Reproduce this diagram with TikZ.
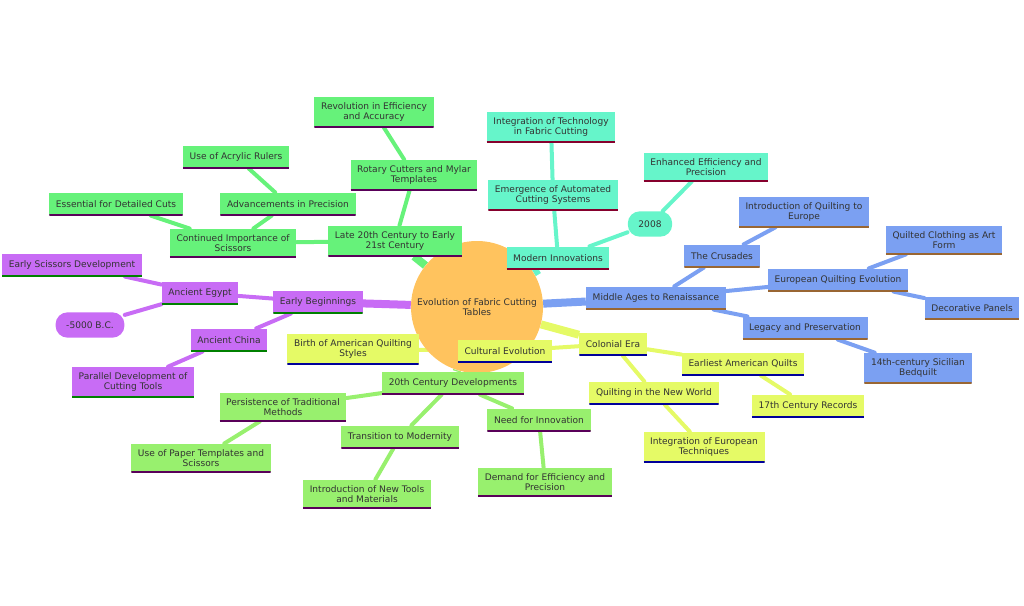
\documentclass[tikz,border=0pt]{standalone}
\usepackage{fontspec}
\setmainfont{DejaVu Sans}
\usetikzlibrary{shapes,positioning,backgrounds}
\definecolor{purp}{HTML}{C86CF5}
\definecolor{grn}{HTML}{66F27A}
\definecolor{teal}{HTML}{66F5CA}
\definecolor{blu}{HTML}{7BA0F2}
\definecolor{yel}{HTML}{E5FA66}
\definecolor{lgr}{HTML}{98F06E}
\definecolor{root}{HTML}{FFC35E}
\definecolor{txt}{HTML}{333333}

\begin{document}
\begin{tikzpicture}[x=0.75pt,y=-0.75pt,
  box/.style={draw=none, fill=#1, text=txt, font=\fontsize{6.8}{8}\selectfont,
    align=center, inner xsep=5pt, inner ysep=4pt, minimum height=17pt},
  ul/.style={path picture={\draw[line width=2pt,#1] (path picture bounding box.south west) -- (path picture bounding box.south east);}},
  pill/.style={fill=#1, text=txt, font=\fontsize{6.8}{8}\selectfont, rounded corners=9pt, inner xsep=8pt, minimum height=19pt},
  link/.style={#1, line width=3pt, line cap=round},
  main/.style={#1, line width=6pt},
]
\useasboundingbox (0,0) rectangle (1024,606);
% centre
\node[circle, fill=root, text=txt, font=\fontsize{6.8}{8}\selectfont, align=center, minimum size=99pt] (evo) at (477,307) {Evolution of Fabric Cutting\\Tables};
% early beginnings
\node[box=purp, ul=green!50!black] (early) at (318,302) {Early Beginnings};
\node[box=purp, ul=green!50!black] (egypt) at (200,293) {Ancient Egypt};
\node[box=purp, ul=green!50!black] (scis) at (72,265) {Early Scissors Development};
\node[pill=purp] (bc) at (90,325) {-5000 B.C.};
\node[box=purp, ul=green!50!black] (china) at (229,340) {Ancient China};
\node[box=purp, ul=green!50!black] (para) at (133,382) {Parallel Development of\\Cutting Tools};
% late 20th
\node[box=grn, ul=violet!70!black] (late) at (395,241) {Late 20th Century to Early\\21st Century};
\node[box=grn, ul=violet!70!black] (cont) at (233,243) {Continued Importance of\\Scissors};
\node[box=grn, ul=violet!70!black] (ess) at (116,204) {Essential for Detailed Cuts};
\node[box=grn, ul=violet!70!black] (adv) at (288,204) {Advancements in Precision};
\node[box=grn, ul=violet!70!black] (acr) at (236,157) {Use of Acrylic Rulers};
\node[box=grn, ul=violet!70!black] (rot) at (414,175) {Rotary Cutters and Mylar\\Templates};
\node[box=grn, ul=violet!70!black] (rev) at (374,112) {Revolution in Efficiency\\and Accuracy};
% modern
\node[box=teal, ul=purple!70!black] (mod) at (558,258) {Modern Innovations};
\node[box=teal, ul=purple!70!black] (auto) at (553,195) {Emergence of Automated\\Cutting Systems};
\node[box=teal, ul=purple!70!black] (integ) at (551,127) {Integration of Technology\\in Fabric Cutting};
\node[pill=teal] (y2008) at (650,224) {2008};
\node[box=teal, ul=purple!70!black] (enh) at (706,167) {Enhanced Efficiency and\\Precision};
% middle ages
\node[box=blu, ul=brown!80!black] (mid) at (656,298) {Middle Ages to Renaissance};
\node[box=blu, ul=brown!80!black] (crus) at (722,256) {The Crusades};
\node[box=blu, ul=brown!80!black] (intro) at (804,212) {Introduction of Quilting to\\Europe};
\node[box=blu, ul=brown!80!black] (euro) at (838,280) {European Quilting Evolution};
\node[box=blu, ul=brown!80!black] (cloth) at (944,240) {Quilted Clothing as Art\\Form};
\node[box=blu, ul=brown!80!black] (deco) at (972,308) {Decorative Panels};
\node[box=blu, ul=brown!80!black] (leg) at (805,328) {Legacy and Preservation};
\node[box=blu, ul=brown!80!black] (sic) at (918,368) {14th-century Sicilian\\Bedquilt};
% colonial
\node[box=yel, ul=blue!60!black] (col) at (613,344) {Colonial Era};
\node[box=yel, ul=blue!60!black] (cult) at (505,351) {Cultural Evolution};
\node[box=yel, ul=blue!60!black] (birth) at (353,349) {Birth of American Quilting\\Styles};
\node[box=yel, ul=blue!60!black] (earl) at (743,364) {Earliest American Quilts};
\node[box=yel, ul=blue!60!black] (rec) at (808,406) {17th Century Records};
\node[box=yel, ul=blue!60!black] (new) at (654,393) {Quilting in the New World};
\node[box=yel, ul=blue!60!black] (tech) at (704,447) {Integration of European\\Techniques};
% 20th century
\node[box=lgr, ul=violet!70!black] (dev) at (453,383) {20th Century Developments};
\node[box=lgr, ul=violet!70!black] (pers) at (283,407) {Persistence of Traditional\\Methods};
\node[box=lgr, ul=violet!70!black] (paper) at (201,458) {Use of Paper Templates and\\Scissors};
\node[box=lgr, ul=violet!70!black] (trans) at (400,437) {Transition to Modernity};
\node[box=lgr, ul=violet!70!black] (tools) at (367,494) {Introduction of New Tools\\and Materials};
\node[box=lgr, ul=violet!70!black] (need) at (539,420) {Need for Innovation};
\node[box=lgr, ul=violet!70!black] (dem) at (545,482) {Demand for Efficiency and\\Precision};

\begin{scope}[on background layer]
\draw[main=purp] (evo) -- (early);
\draw[main=grn] (evo) -- (late);
\draw[main=teal] (evo) -- (mod);
\draw[main=blu] (evo) -- (mid);
\draw[main=yel] (evo) -- (col);
\draw[main=lgr] (evo) -- (dev);
\draw[link=purp] (early) -- (egypt);
\draw[link=purp] (early) -- (china);
\draw[link=purp] (egypt) -- (scis);
\draw[link=purp] (egypt) -- (bc);
\draw[link=purp] (china) -- (para);
\draw[link=grn] (late) -- (cont);
\draw[link=grn] (late) -- (rot);
\draw[link=grn] (cont) -- (ess);
\draw[link=grn] (cont) -- (adv);
\draw[link=grn] (adv) -- (acr);
\draw[link=grn] (rot) -- (rev);
\draw[link=teal] (mod) -- (auto);
\draw[link=teal] (auto) -- (integ);
\draw[link=teal] (mod) -- (y2008);
\draw[link=teal] (y2008) -- (enh);
\draw[link=blu] (mid) -- (crus);
\draw[link=blu] (crus) -- (intro);
\draw[link=blu] (mid) -- (euro);
\draw[link=blu] (euro) -- (cloth);
\draw[link=blu] (euro) -- (deco);
\draw[link=blu] (mid) -- (leg);
\draw[link=blu] (leg) -- (sic);
\draw[link=yel] (col) -- (cult);
\draw[link=yel] (cult) -- (birth);
\draw[link=yel] (col) -- (earl);
\draw[link=yel] (earl) -- (rec);
\draw[link=yel] (col) -- (new);
\draw[link=yel] (new) -- (tech);
\draw[link=lgr] (dev) -- (pers);
\draw[link=lgr] (pers) -- (paper);
\draw[link=lgr] (dev) -- (trans);
\draw[link=lgr] (trans) -- (tools);
\draw[link=lgr] (dev) -- (need);
\draw[link=lgr] (need) -- (dem);
\end{scope}
\end{tikzpicture}
\end{document}
